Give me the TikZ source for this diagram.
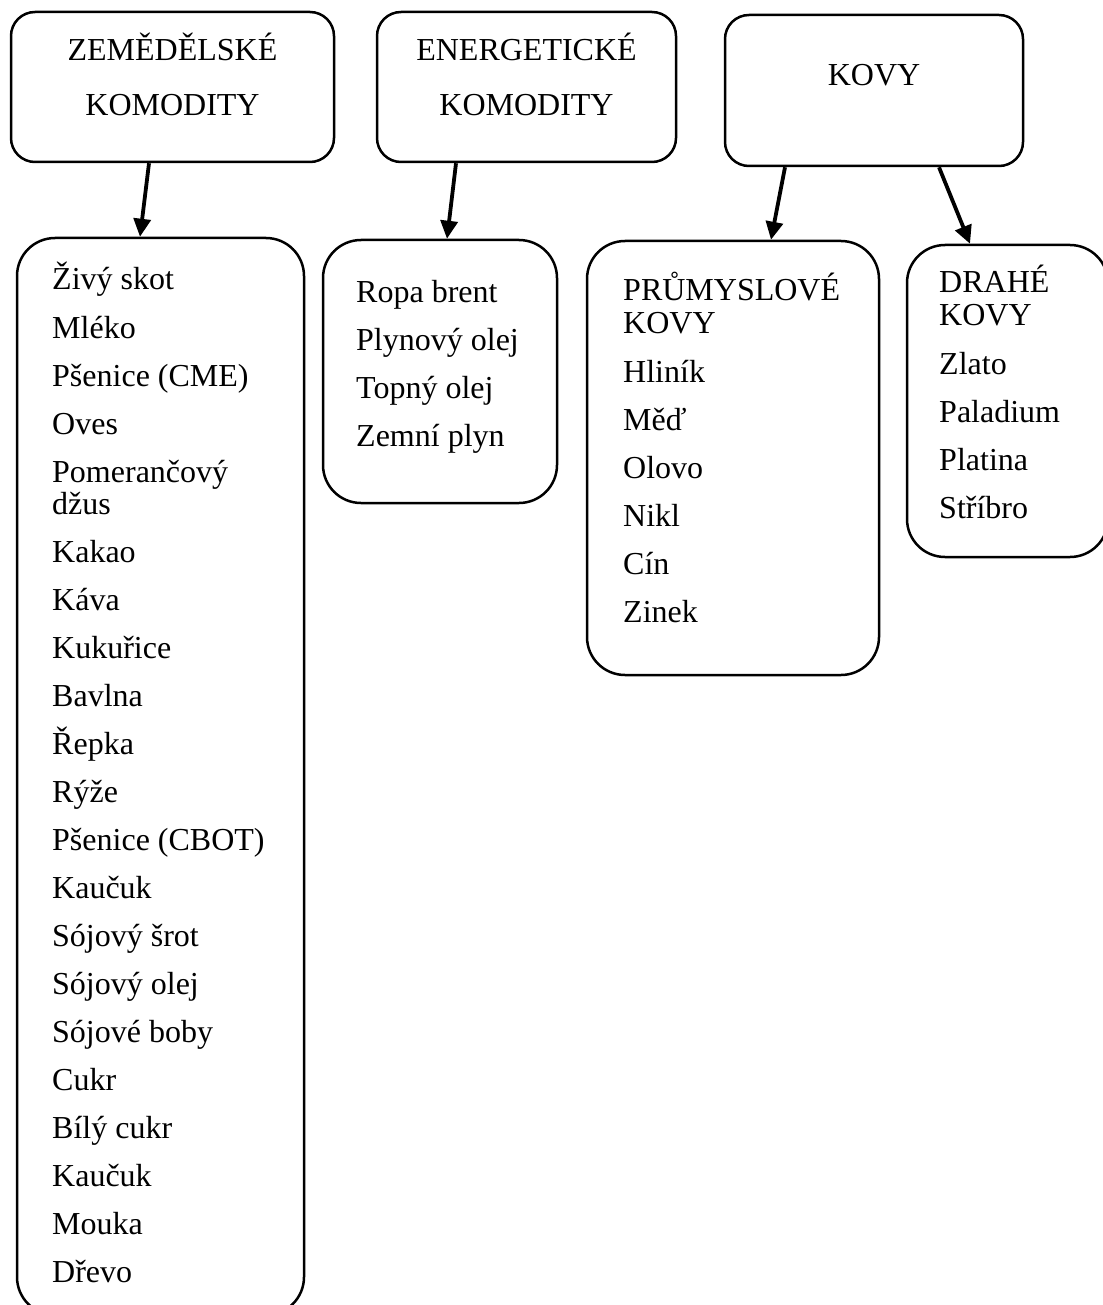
\documentclass[tikz,border=0pt]{standalone}
\usepackage{fontspec}
\setmainfont{Liberation Serif}
\usetikzlibrary{arrows.meta}
\begin{document}
\begin{tikzpicture}[x=1pt,y=-1pt,
  topbox/.style={draw, line width=2.5pt, rounded corners=24pt, inner sep=0pt},
  listbox/.style={draw, line width=2.5pt, rounded corners=38pt, inner sep=0pt},
  txt/.style={anchor=base west, inner sep=0pt, font=\fontsize{32}{32}\selectfont},
  ctxt/.style={anchor=base, inner sep=0pt, font=\fontsize{32}{32}\selectfont},
  conn/.style={line width=3.8pt, -{Triangle[length=18pt,width=17pt]}}]
\useasboundingbox (0,0) rectangle (1102,1305);
% top boxes
\node[topbox, minimum width=323pt, minimum height=150pt] (zem) at (172.5,87) {};
\node[topbox, minimum width=299pt, minimum height=150pt] (ene) at (526.5,87) {};
\node[topbox, minimum width=298pt, minimum height=151pt] (kov) at (874,90.5) {};
\node[ctxt] (zemA) at (172.5,61) {ZEMĚDĚLSKÉ};
\node[ctxt] (zemB) at (172.5,116) {KOMODITY};
\node[ctxt] (eneA) at (526.5,61) {ENERGETICKÉ};
\node[ctxt] (eneB) at (526.5,116) {KOMODITY};
\node[ctxt] (kovA) at (874,86) {KOVY};
% list boxes
\node[listbox, minimum width=287pt, minimum height=1077pt] (zl) at (160.5,776.5) {};
\node[listbox, minimum width=234pt, minimum height=263pt] (el) at (440,371.5) {};
\node[listbox, minimum width=292pt, minimum height=434pt] (pl) at (733,458) {};
\node[listbox, minimum width=201pt, minimum height=312pt] (dl) at (1007.5,401) {};
% list texts
\foreach \t/\y [count=\i] in {Živý skot/290, Mléko/338, Pšenice (CME)/386, Oves/434,
  Pomerančový/482, džus/514, Kakao/562, Káva/610, Kukuřice/658, Bavlna/706,
  Řepka/754, Rýže/802, Pšenice (CBOT)/850, Kaučuk/898, Sójový šrot/946,
  Sójový olej/994, Sójové boby/1042, Cukr/1090, Bílý cukr/1138, Kaučuk/1186,
  Mouka/1234, Dřevo/1282}
  \node[txt, name=zt\i] at (52,\y) {\t};
\foreach \t/\y [count=\i] in {Ropa brent/302, Plynový olej/350, Topný olej/398, Zemní plyn/446}
  \node[txt, name=et\i] at (356,\y) {\t};
\foreach \t/\y [count=\i] in {PRŮMYSLOVÉ/301, KOVY/333, Hliník/382, Měď/430, Olovo/478,
  Nikl/526, Cín/574, Zinek/622}
  \node[txt, name=pt\i] at (623,\y) {\t};
\foreach \t/\y [count=\i] in {DRAHÉ/293, KOVY/325, Zlato/374, Paladium/422, Platina/470, Stříbro/518}
  \node[txt, name=dt\i] at (939,\y) {\t};
% connectors
\draw[conn] ([xshift=-23.5pt]zem.south) -- ([xshift=-20.5pt]zl.north);
\draw[conn] ([xshift=-70.5pt]ene.south) -- ([xshift=7pt]el.north);
\draw[conn] ([xshift=-89pt]kov.south) -- ([xshift=38pt]pl.north);
\draw[conn] ([xshift=65pt]kov.south) -- ([xshift=-37.5pt]dl.north);
\end{tikzpicture}
\end{document}
